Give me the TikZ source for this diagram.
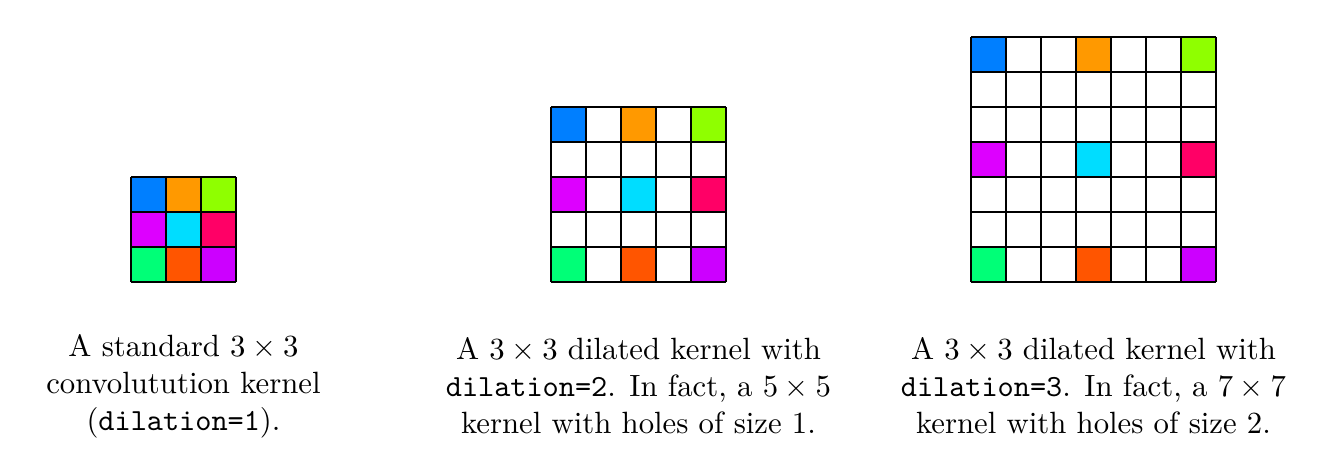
\documentclass[tikz,border=0pt]{standalone}
\definecolor{kblue}{HTML}{007FFF}
\definecolor{korange}{HTML}{FF9900}
\definecolor{klime}{HTML}{8FFF00}
\definecolor{kmagenta}{HTML}{DD00FF}
\definecolor{kcyan}{HTML}{00DDFF}
\definecolor{kpink}{HTML}{FF0066}
\definecolor{kgreen}{HTML}{00FF77}
\definecolor{kred}{HTML}{FF5500}
\definecolor{kpurple}{HTML}{CC00FF}
\tikzset{
  gridline/.style={line width=0.6pt, black},
  kcell/.style={draw=black, line width=0.6pt},
  caption/.style={align=center, anchor=north, inner sep=0pt, font=\normalsize}
}
% #1 = n (grid size), #2 = dilation
\newcommand{\kernelgrid}[2]{%
  \foreach \c [count=\k from 0] in {kblue,korange,klime,kmagenta,kcyan,kpink,kgreen,kred,kpurple} {
    \pgfmathtruncatemacro{\rr}{int(\k/3)}
    \pgfmathtruncatemacro{\cc}{mod(\k,3)}
    \fill[\c] (\cc*#2, #1-1-\rr*#2) rectangle ++(1,1);
  }
  \foreach \i in {0,...,#1} {
    \draw[gridline] (\i,0) -- (\i,#1);
    \draw[gridline] (0,\i) -- (#1,\i);
  }
}
\begin{document}
\begin{tikzpicture}
\useasboundingbox (0,0) rectangle (15.063,5.291);
\begin{scope}[shift={(1.497cm,2.068cm)}, x=0.4cm, y=0.4cm]
  \kernelgrid{3}{1}
\end{scope}
\begin{scope}[shift={(6.297cm,2.068cm)}, x=0.4cm, y=0.4cm]
  \kernelgrid{5}{2}
\end{scope}
\begin{scope}[shift={(11.097cm,2.068cm)}, x=0.4cm, y=0.4cm]
  \kernelgrid{7}{3}
\end{scope}
\node[caption] (capa) at (2.097,1.474) {A standard $3\times 3$\\ convolutution kernel\\ (\texttt{dilation=1}).};
\node[caption] (capb) at (7.297,1.440) {A $3\times 3$ dilated kernel with\\ \texttt{dilation=2}. In fact, a $5\times 5$\\ kernel with holes of size 1.};
\node[caption] (capc) at (12.497,1.440) {A $3\times 3$ dilated kernel with\\ \texttt{dilation=3}. In fact, a $7\times 7$\\ kernel with holes of size 2.};
\end{tikzpicture}
\end{document}
